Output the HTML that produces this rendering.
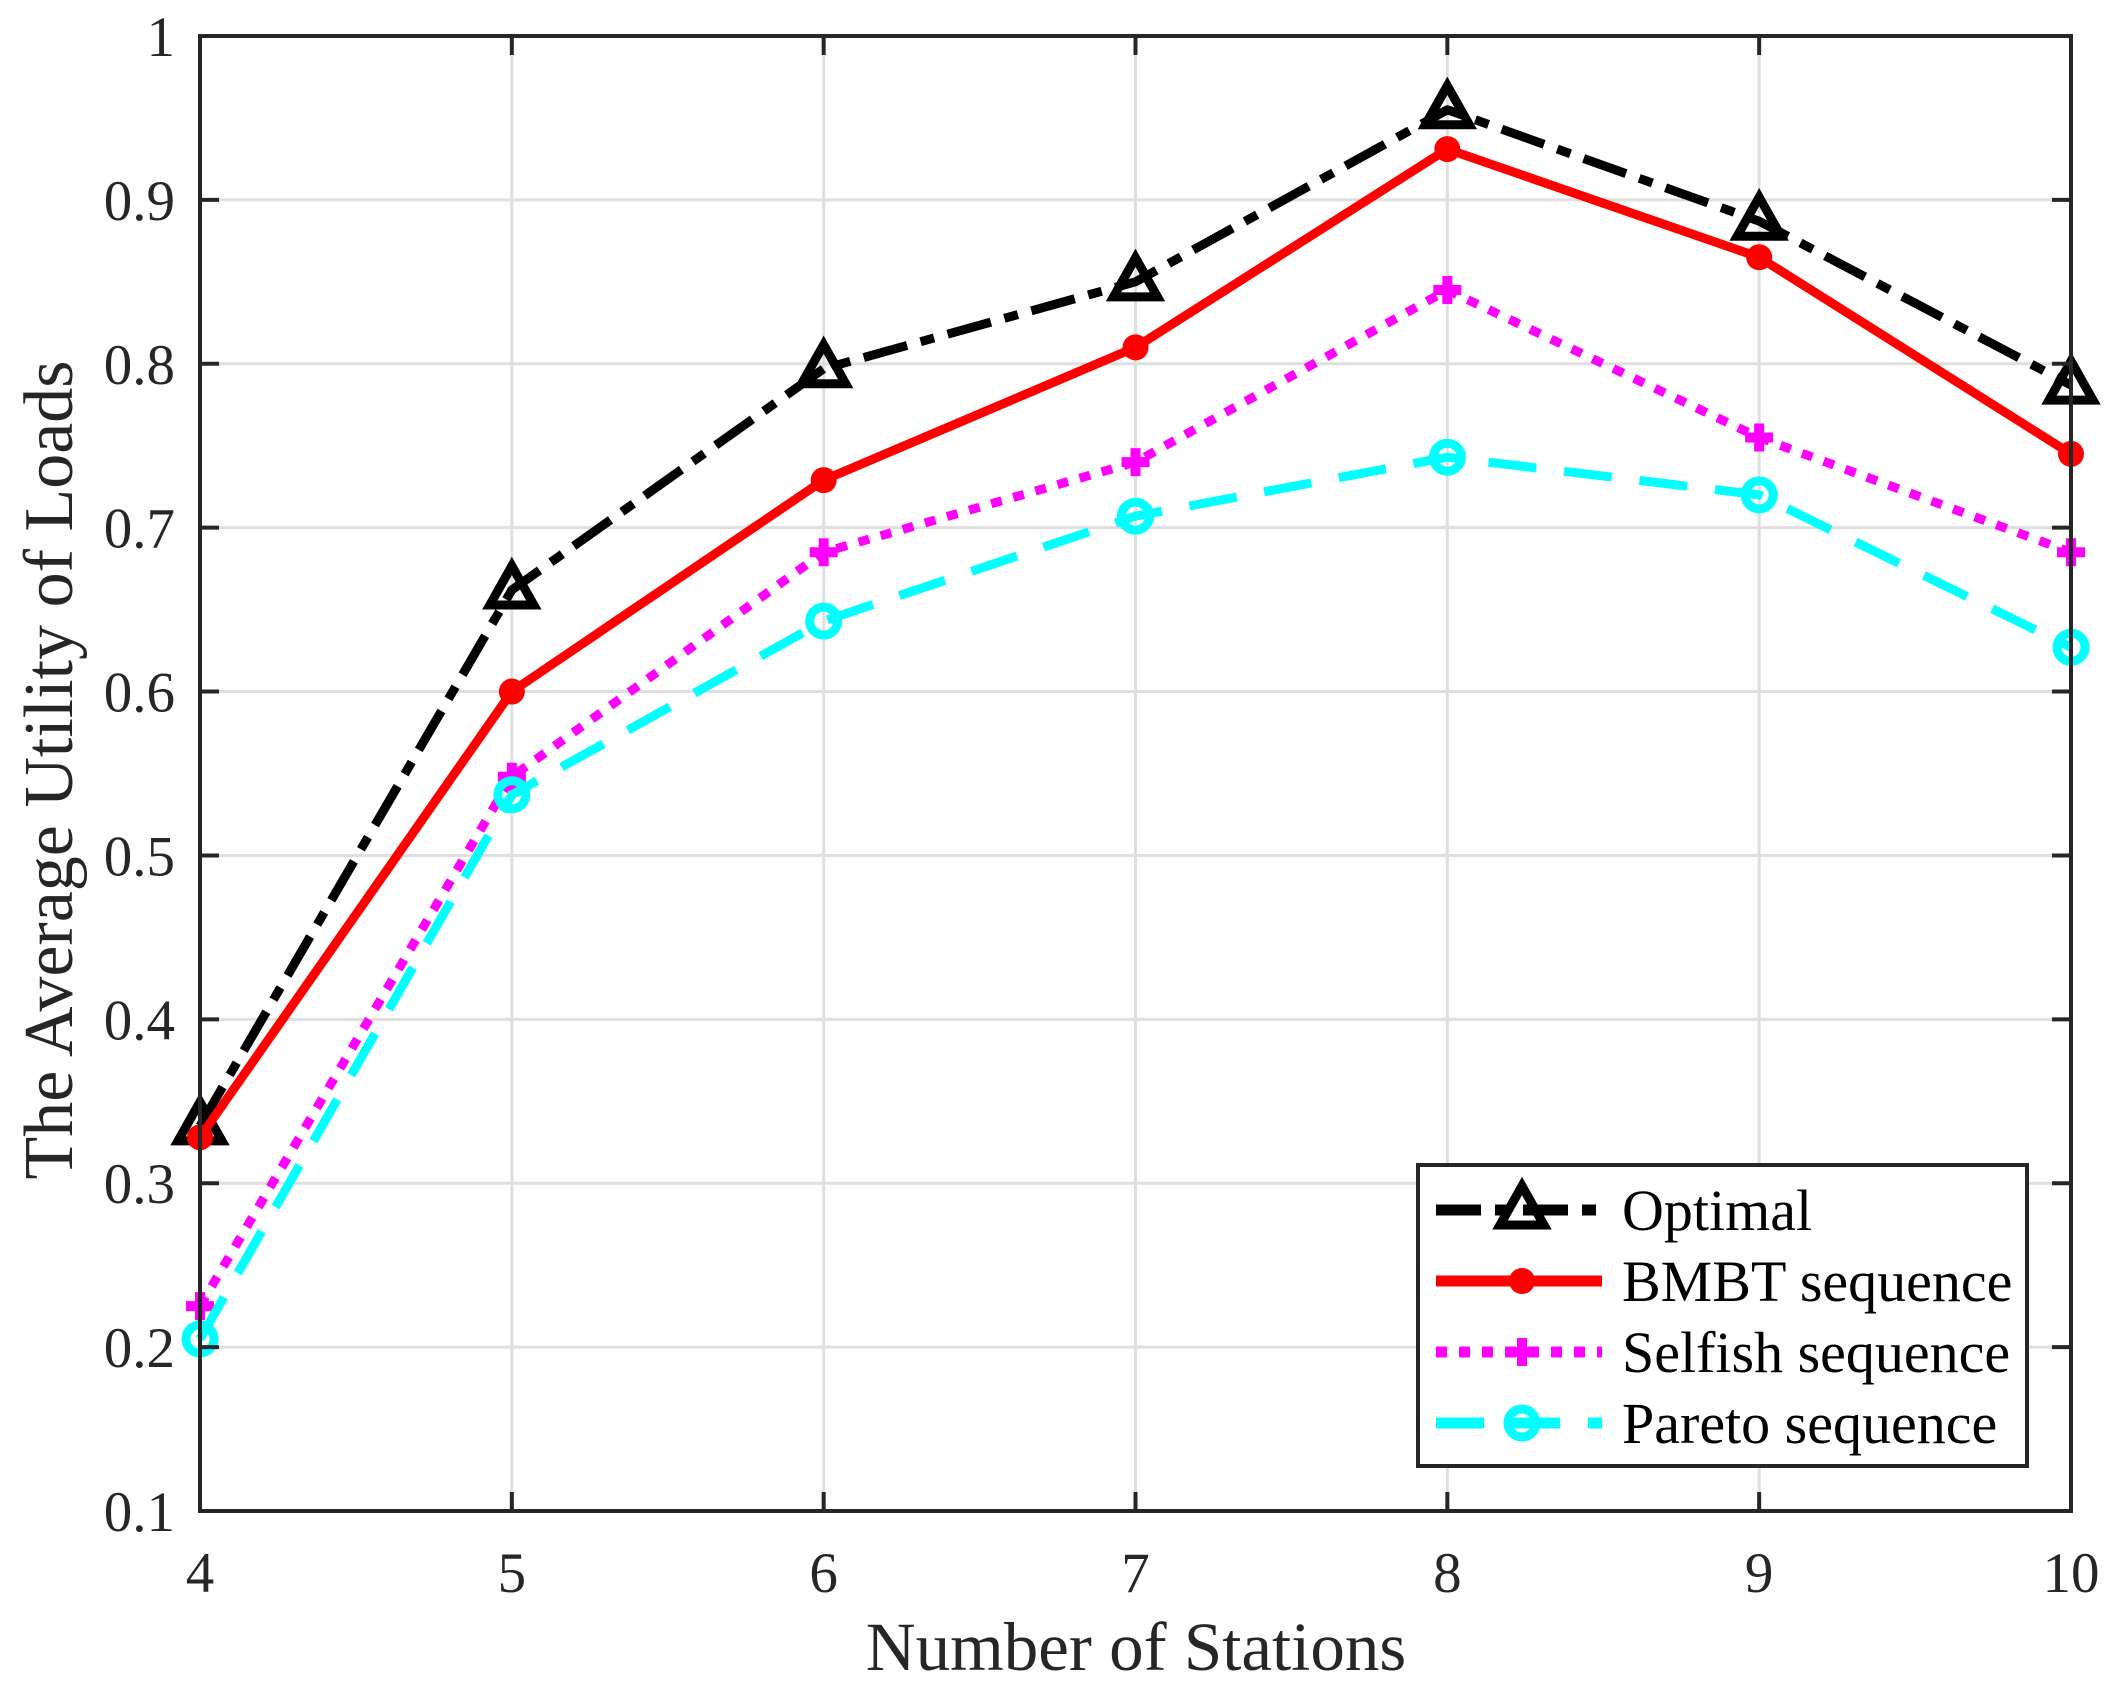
<!DOCTYPE html>
<html><head><meta charset="utf-8"><style>
html,body{margin:0;padding:0;background:#fff;}
svg{display:block;font-family:"Liberation Serif",serif;}
</style></head><body>
<svg id="chart" width="2120" height="1706" viewBox="0 0 2120 1706">
<g id="grid"></g>
<g id="series"></g>
<rect x="200" y="36" width="1871" height="1475" fill="none" stroke="#262626" stroke-width="4"/>
<g id="ticks"></g>
<text x="1136" y="1670" font-size="69" text-anchor="middle" fill="#262626">Number of Stations</text>
<text transform="translate(72,770) rotate(-90)" font-size="70" text-anchor="middle" fill="#262626">The Average Utility of Loads</text>
<g id="legend">
<rect x="1418" y="1165" width="609" height="301" fill="#fff" stroke="#262626" stroke-width="4"/>
</g>
</svg>
<script>
const categories = [4,5,6,7,8,9,10];
const optimalValues = [0.335,0.662,0.797,0.850,0.955,0.887,0.787];
const bmbtValues = [0.328,0.600,0.729,0.810,0.931,0.865,0.745];
const selfishValues = [0.225,0.548,0.685,0.740,0.845,0.755,0.685];
const paretoValues = [0.205,0.537,0.643,0.707,0.743,0.720,0.627];
const yTickLabels = ["0.1","0.2","0.3","0.4","0.5","0.6","0.7","0.8","0.9","1"];
const xTickLabels = ["4","5","6","7","8","9","10"];
const seriesNames = ["Optimal","BMBT sequence","Selfish sequence","Pareto sequence"];

const NS="http://www.w3.org/2000/svg";
const L=200,R=2071,T=36,B=1511;
function xs(v){return L+(v-4)/(10-4)*(R-L);}
function ys(v){return B-(v-0.1)/(1-0.1)*(B-T);}
function mk(tag,attrs,parent){const e=document.createElementNS(NS,tag);for(const k in attrs)e.setAttribute(k,attrs[k]);parent.appendChild(e);return e;}
const grid=document.getElementById('grid'),ticks=document.getElementById('ticks'),ser=document.getElementById('series'),leg=document.getElementById('legend');

xTickLabels.forEach((t)=>{const x=xs(+t);
 const g=mk('line',{x1:x,x2:x,y1:T,y2:B,stroke:'#dfdfdf','stroke-width':3},grid);
 
 
 const tk=mk('line',{x1:x,x2:x,y1:B,y2:B-19,stroke:'#262626','stroke-width':4},ticks);
 
 
 const tk2=mk('line',{x1:x,x2:x,y1:T,y2:T+19,stroke:'#262626','stroke-width':4},ticks);
 
 
 const tx=mk('text',{x:x,y:1592,'font-size':57,'text-anchor':'middle',fill:'#262626'},ticks);tx.textContent=t;
 
 
});
yTickLabels.forEach((t)=>{const y=ys(+t);
 const g=mk('line',{x1:L,x2:R,y1:y,y2:y,stroke:'#dfdfdf','stroke-width':3},grid);
 
 
 const tk=mk('line',{x1:L,x2:L+19,y1:y,y2:y,stroke:'#262626','stroke-width':4},ticks);
 
 
 const tk2=mk('line',{x1:R,x2:R-19,y1:y,y2:y,stroke:'#262626','stroke-width':4},ticks);
 
 
 const tx=mk('text',{x:175,y:y+20,'font-size':57,'text-anchor':'end',fill:'#262626'},ticks);tx.textContent=t;
 
 
});

const styles=[
 {vals:optimalValues,color:'#000',dash:'45 14 14 14',marker:'tri',name:'optimal'},
 {vals:bmbtValues,color:'#ff0000',dash:'none',marker:'dot',name:'bmbt'},
 {vals:selfishValues,color:'#ff00ff',dash:'11 12',marker:'plus',name:'selfish'},
 {vals:paretoValues,color:'#00ffff',dash:'48 28',marker:'circ',name:'pareto'}
];
function marker(type,x,y,color,parent){
 let e;
 if(type==='tri') e=mk('polygon',{points:`${x},${y-24} ${x-22},${y+15} ${x+22},${y+15}`,fill:'none',stroke:color,'stroke-width':9,'stroke-linejoin':'miter'},parent);
 else if(type==='dot') e=mk('circle',{cx:x,cy:y,r:13,fill:color},parent);
 else if(type==='plus') e=mk('path',{d:`M${x-14},${y}H${x+14}M${x},${y-14}V${y+14}`,stroke:color,'stroke-width':10,fill:'none'},parent);
 else e=mk('circle',{cx:x,cy:y,r:14,fill:'none',stroke:color,'stroke-width':9},parent);
 return e;
}
styles.forEach(s=>{
 const pts=s.vals.map((v,i)=>xs(categories[i])+','+ys(v)).join(' ');
 const pl=mk('polyline',{points:pts,fill:'none',stroke:s.color,'stroke-width':9,'stroke-dasharray':s.dash,'stroke-linejoin':'round'},ser);
 
 
 s.vals.forEach((v,i)=>{const m=marker(s.marker,xs(categories[i]),ys(v),s.color,ser);
  
  });
});
const legY=[1210,1281,1352,1423];
styles.forEach((s,i)=>{
 const y=legY[i];
 const ln=mk('line',{x1:1436,x2:1602,y1:y,y2:y,stroke:s.color,'stroke-width':11,'stroke-dasharray':s.dash},leg);
 
 
 const m=marker(s.marker,1522,y,s.color,leg);
 
 
 const tx=mk('text',{x:1622,y:y+20,'font-size':58,fill:'#000'},leg);tx.textContent=seriesNames[i];
 
 
});
</script>
</body></html>
